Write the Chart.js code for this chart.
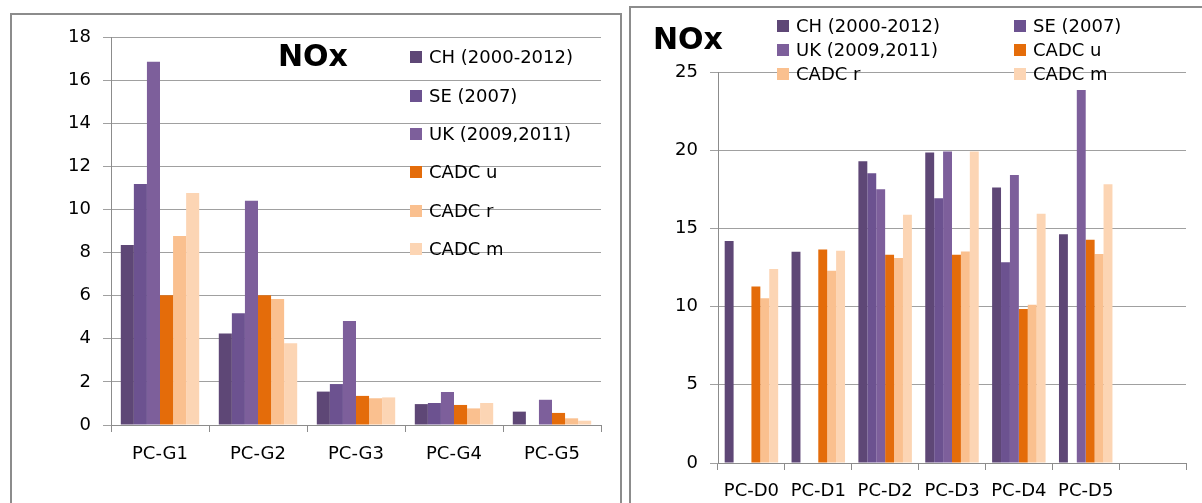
<!DOCTYPE html>
<html>
<head>
<meta charset="utf-8">
<script src="https://cdn.jsdelivr.net/npm/chart.js@4"></script>
<style>
    html, body { margin: 0; padding: 0; background: #fff; overflow: hidden; }
    body { width: 1202px; height: 503px; position: relative; font-family: 'DejaVu Sans', sans-serif; }
    .panel { position: absolute; border: 2px solid #8c8c8c; background: #fff; box-sizing: border-box; }
    .title { position: absolute; font: bold 30px 'DejaVu Sans', sans-serif; line-height: 30px; color: #000; white-space: nowrap; }
    .legend-item { position: absolute; font: 18px 'DejaVu Sans', sans-serif; line-height: 18px; color: #000; white-space: nowrap; }
    .legend-item span { position: absolute; width: 12px; height: 12px; top: 3px; }
    canvas { position: absolute; }
</style>
</head>
<body>
<div class="panel" style="left:10px; top:13px; width:612px; height:520px;"></div>
<div class="panel" style="left:629px; top:6px; width:600px; height:520px;"></div>
<canvas id="leftChart" width="606" height="489" style="left:11px; top:14px;"></canvas>
<canvas id="rightChart" width="571" height="495" style="left:631px; top:8px;"></canvas>
<div class="title" style="left:278px; top:41px;">NOx</div>
<div class="title" style="left:653px; top:24px;">NOx</div>
<div id="leftLegend"></div>
<div id="rightLegend"></div>
<script>
// Categories
const leftCategories = ['PC-G1', 'PC-G2', 'PC-G3', 'PC-G4', 'PC-G5'];
const rightCategories = ['PC-D0', 'PC-D1', 'PC-D2', 'PC-D3', 'PC-D4', 'PC-D5', ''];

// Series names
const seriesNames = ['CH (2000-2012)', 'SE (2007)', 'UK (2009,2011)', 'CADC u', 'CADC r', 'CADC m'];

// Left chart values (PC-G)
const leftCH = [8.35, 4.25, 1.55, 0.97, 0.62];
const leftSE = [11.18, 5.18, 1.9, 1.02, null];
const leftUK = [16.85, 10.4, 4.82, 1.53, 1.17];
const leftCadcU = [6.02, 6.02, 1.35, 0.93, 0.56];
const leftCadcR = [8.77, 5.84, 1.24, 0.77, 0.31];
const leftCadcM = [10.76, 3.79, 1.28, 1.02, 0.2];

// Right chart values (PC-D)
const rightCH = [14.2, 13.5, 19.3, 19.85, 17.61, 14.63, null];
const rightSE = [null, null, 18.53, 16.93, 12.84, null, null];
const rightUK = [null, null, 17.5, 19.91, 18.42, 23.85, null];
const rightCadcU = [11.28, 13.65, 13.31, 13.31, 9.84, 14.27, null];
const rightCadcR = [10.54, 12.29, 13.1, 13.52, 10.12, 13.37, null];
const rightCadcM = [12.41, 13.57, 15.87, 19.91, 15.93, 17.83, null];

// Tick settings
const leftMax = 18, leftStep = 2;
const rightMax = 25, rightStep = 5;

const seriesColors = ['#5e4776', '#6c5290', '#7d5f9b', '#e46c0a', '#fac08f', '#fcd5b4'];

Chart.defaults.font.family = "'DejaVu Sans', sans-serif";
Chart.defaults.font.size = 18;
Chart.defaults.color = '#000';

function buildDatasets(values) {
    return values.map((data, i) => ({
        label: seriesNames[i],
        data: data,
        backgroundColor: seriesColors[i],
        borderWidth: 0,
        barPercentage: 1.0,
        categoryPercentage: 0.8
    }));
}

/**
 * Builds a bar chart with a fixed plot area.
 */
function makeChart(id, labels, values, max, step, opts) {
    const ctx = document.getElementById(id).getContext('2d');
    return new Chart(ctx, {
        type: 'bar',
        data: { labels: labels, datasets: buildDatasets(values) },
        options: {
            responsive: false,
            animation: false,
            layout: { padding: { top: opts.top, right: opts.right, left: 0, bottom: 0 } },
            plugins: { legend: { display: false }, tooltip: { enabled: false } },
            scales: {
                x: {
                    grid: { drawOnChartArea: false, drawTicks: true, tickLength: 7, color: '#8c8c8c', offset: true },
                    border: { color: '#8c8c8c', width: 1 },
                    ticks: { padding: opts.xPad, maxRotation: 0, autoSkip: false },
                    afterFit: s => { s.height = opts.xHeight; }
                },
                y: {
                    min: 0,
                    max: max,
                    grid: { color: '#a0a0a0', tickLength: 8 },
                    border: { color: '#8c8c8c', width: 1 },
                    ticks: { stepSize: step, padding: 12 },
                    afterFit: s => { s.width = opts.yWidth; }
                }
            }
        }
    });
}

makeChart('leftChart', leftCategories,
    [leftCH, leftSE, leftUK, leftCadcU, leftCadcR, leftCadcM],
    leftMax, leftStep,
    { top: 23, right: 16, xHeight: 78, yWidth: 100, xPad: 12 });

makeChart('rightChart', rightCategories,
    [rightCH, rightSE, rightUK, rightCadcU, rightCadcR, rightCadcM],
    rightMax, rightStep,
    { top: 64, right: 16, xHeight: 40, yWidth: 87, xPad: 11 });

// Legends drawn as HTML over the plot area
function addLegend(containerId, positions) {
    const container = document.getElementById(containerId);
    seriesNames.forEach((name, i) => {
        const p = positions[i];
        const item = document.createElement('div');
        item.className = 'legend-item';
        item.style.left = (p.x + 19) + 'px';
        item.style.top = (p.y - 9) + 'px';
        item.textContent = name;
        const box = document.createElement('span');
        box.style.left = '-19px';
        box.style.background = seriesColors[i];
        item.appendChild(box);
        container.appendChild(item);
    });
}

addLegend('leftLegend', [
    { x: 410, y: 57 }, { x: 410, y: 96 }, { x: 410, y: 134 },
    { x: 410, y: 172 }, { x: 410, y: 211 }, { x: 410, y: 249 }
]);

addLegend('rightLegend', [
    { x: 777, y: 26 }, { x: 1014, y: 26 },
    { x: 777, y: 50 }, { x: 1014, y: 50 },
    { x: 777, y: 74 }, { x: 1014, y: 74 }
]);
</script>
</body>
</html>
